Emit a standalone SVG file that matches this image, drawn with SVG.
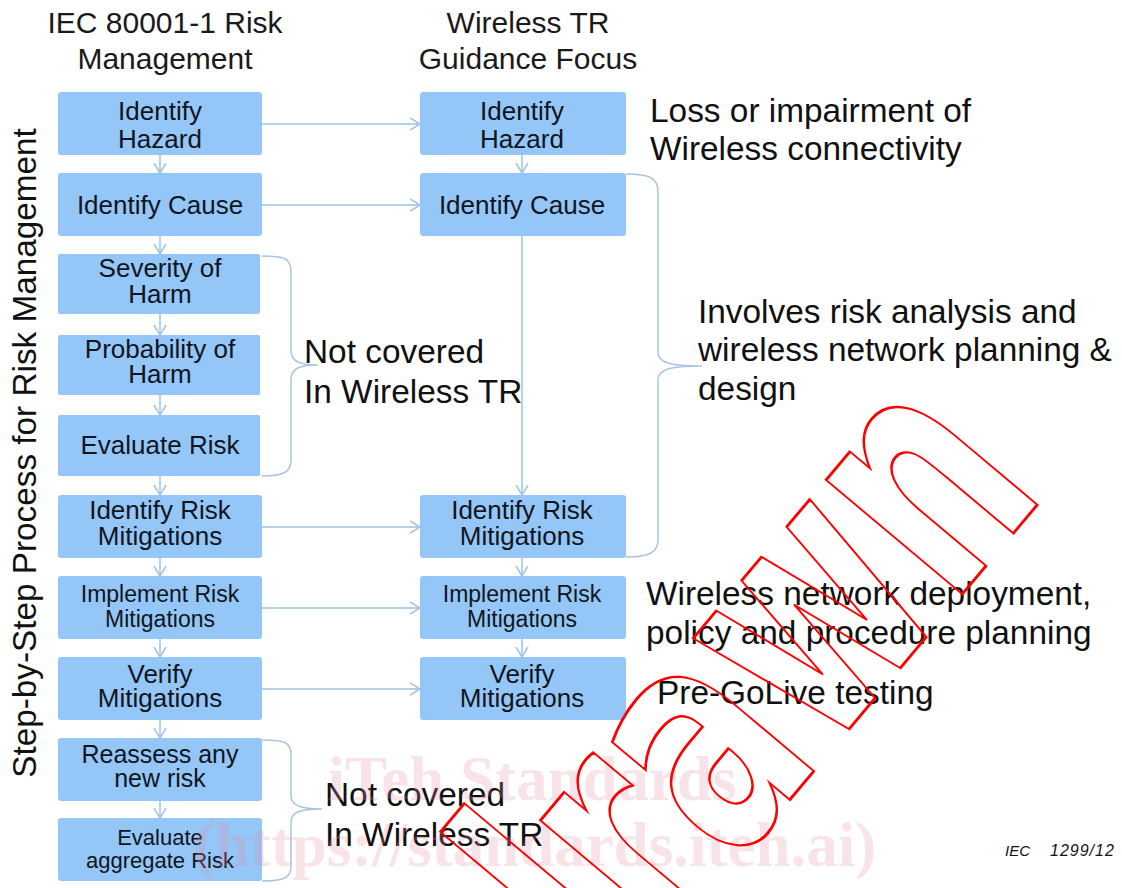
<svg xmlns="http://www.w3.org/2000/svg" width="1122" height="888" viewBox="0 0 1122 888">
<defs>
<marker id="arr" markerUnits="userSpaceOnUse" markerWidth="12" markerHeight="14" refX="10" refY="7" orient="auto">
<path d="M0,1 L10,7 L0,13" fill="none" stroke="#9DC3E6" stroke-width="1.5"/>
</marker>
<style>
.box{fill:#94C6F7;}
.bt{font-family:"Liberation Sans",Arial,sans-serif;font-size:26px;fill:#101520;text-anchor:middle;}
.hd{font-family:"Liberation Sans",Arial,sans-serif;font-size:30px;fill:#1a1a1a;text-anchor:middle;}
.an{font-family:"Liberation Sans",Arial,sans-serif;font-size:33.4px;fill:#111;}
.cn{fill:none;stroke:#9DC3E6;stroke-width:1.5;}
.br{fill:none;stroke:#A9C4E2;stroke-width:1.5;}
.wm{font-family:"Liberation Serif","Times New Roman",serif;font-weight:bold;font-size:63px;fill:#E58FA7;fill-opacity:0.25;text-anchor:middle;}
.wd{font-family:"DejaVu Sans",sans-serif;font-weight:bold;font-size:250px;fill:none;stroke:#FF0000;stroke-width:2.2;text-anchor:end;}
</style>
</defs>
<rect width="1122" height="888" fill="#ffffff"/>

<g id="headers">
<text class="hd" x="165" y="33">IEC 80001-1 Risk</text>
<text class="hd" x="165" y="69">Management</text>
<text class="hd" x="528" y="33">Wireless TR</text>
<text class="hd" x="528" y="69">Guidance Focus</text>
</g>

<g id="side-label">
<text font-family="Liberation Sans, Arial, sans-serif" font-size="33.3" fill="#111" text-anchor="middle" transform="translate(36,453) rotate(-90)">Step-by-Step Process for Risk Management</text>
</g>

<g id="connectors">
<line class="cn" x1="160" y1="155" x2="160" y2="173" marker-end="url(#arr)"/>
<line class="cn" x1="160" y1="236" x2="160" y2="254" marker-end="url(#arr)"/>
<line class="cn" x1="160" y1="314" x2="160" y2="335" marker-end="url(#arr)"/>
<line class="cn" x1="160" y1="395" x2="160" y2="415" marker-end="url(#arr)"/>
<line class="cn" x1="160" y1="476" x2="160" y2="495" marker-end="url(#arr)"/>
<line class="cn" x1="160" y1="558" x2="160" y2="576" marker-end="url(#arr)"/>
<line class="cn" x1="160" y1="639" x2="160" y2="657" marker-end="url(#arr)"/>
<line class="cn" x1="160" y1="720" x2="160" y2="738" marker-end="url(#arr)"/>
<line class="cn" x1="160" y1="801" x2="160" y2="818" marker-end="url(#arr)"/>
<line class="cn" x1="522" y1="155" x2="522" y2="173" marker-end="url(#arr)"/>
<line class="cn" x1="522" y1="236" x2="522" y2="495" marker-end="url(#arr)"/>
<line class="cn" x1="522" y1="558" x2="522" y2="576" marker-end="url(#arr)"/>
<line class="cn" x1="522" y1="639" x2="522" y2="657" marker-end="url(#arr)"/>
<line class="cn" x1="262" y1="124" x2="420" y2="124" marker-end="url(#arr)"/>
<line class="cn" x1="262" y1="205" x2="420" y2="205" marker-end="url(#arr)"/>
<line class="cn" x1="262" y1="527" x2="420" y2="527" marker-end="url(#arr)"/>
<line class="cn" x1="262" y1="608" x2="420" y2="608" marker-end="url(#arr)"/>
<line class="cn" x1="262" y1="689" x2="420" y2="689" marker-end="url(#arr)"/>
<path class="br" d="M262,256 C284,256 291,258 291,272 L291,350 C291,362 300,365 318,365 C300,365 291,368 291,380 L291,460 C291,472 284,476 262,476"/>
<path class="br" d="M626,174 C650,174 658,178 658,192 L658,352 C658,362 668,366 702,366 C668,366 658,370 658,380 L658,540 C658,552 650,557 626,557"/>
<path class="br" d="M262,740 C284,740 291,742 291,754 L291,796 C291,805 300,809 322,809 C300,809 291,812 291,822 L291,866 C291,878 284,881 262,881"/>
</g>

<g id="L1"><rect class="box" x="58" y="92" width="204" height="63" rx="3"/><text class="bt" x="160" y="120">Identify</text><text class="bt" x="160" y="148">Hazard</text></g>
<g id="L2"><rect class="box" x="58" y="173" width="204" height="63" rx="3"/><text class="bt" x="160" y="214">Identify Cause</text></g>
<g id="L3"><rect class="box" x="58" y="254" width="202" height="60" rx="2"/><text class="bt" x="160" y="277">Severity of</text><text class="bt" x="160" y="303">Harm</text></g>
<g id="L4"><rect class="box" x="58" y="335" width="202" height="60" rx="2"/><text class="bt" x="160" y="358">Probability of</text><text class="bt" x="160" y="383">Harm</text></g>
<g id="L5"><rect class="box" x="58" y="415" width="202" height="61" rx="2"/><text class="bt" x="160" y="454">Evaluate Risk</text></g>
<g id="L6"><rect class="box" x="58" y="495" width="204" height="63" rx="3"/><text class="bt" x="160" y="519">Identify Risk</text><text class="bt" x="160" y="545">Mitigations</text></g>
<g id="L7"><rect class="box" x="58" y="576" width="204" height="63" rx="3"/><text class="bt" x="160" y="602" style="font-size:23px">Implement Risk</text><text class="bt" x="160" y="627" style="font-size:23px">Mitigations</text></g>
<g id="L8"><rect class="box" x="58" y="657" width="204" height="63" rx="3"/><text class="bt" x="160" y="683">Verify</text><text class="bt" x="160" y="707">Mitigations</text></g>
<g id="L9"><rect class="box" x="58" y="738" width="204" height="63" rx="3"/><text class="bt" x="160" y="763" style="font-size:25px">Reassess any</text><text class="bt" x="160" y="787" style="font-size:25px">new risk</text></g>
<g id="L10"><rect class="box" x="58" y="818" width="204" height="63" rx="3"/><text class="bt" x="160" y="845" style="font-size:22px">Evaluate</text><text class="bt" x="160" y="868" style="font-size:22px">aggregate Risk</text></g>

<g id="R1"><rect class="box" x="420" y="92" width="206" height="63" rx="3"/><text class="bt" x="522" y="120">Identify</text><text class="bt" x="522" y="148">Hazard</text></g>
<g id="R2"><rect class="box" x="420" y="173" width="206" height="63" rx="3"/><text class="bt" x="522" y="214">Identify Cause</text></g>
<g id="R6"><rect class="box" x="420" y="495" width="206" height="63" rx="3"/><text class="bt" x="522" y="519">Identify Risk</text><text class="bt" x="522" y="545">Mitigations</text></g>
<g id="R7"><rect class="box" x="420" y="576" width="206" height="63" rx="3"/><text class="bt" x="522" y="602" style="font-size:23px">Implement Risk</text><text class="bt" x="522" y="627" style="font-size:23px">Mitigations</text></g>
<g id="R8"><rect class="box" x="420" y="657" width="206" height="63" rx="3"/><text class="bt" x="522" y="683">Verify</text><text class="bt" x="522" y="707">Mitigations</text></g>

<g id="annotations">
<text class="an" x="650" y="122">Loss or impairment of</text>
<text class="an" x="650" y="160">Wireless connectivity</text>
<text class="an" x="304" y="363">Not covered</text>
<text class="an" x="304" y="403">In Wireless TR</text>
<text class="an" x="698" y="323">Involves risk analysis and</text>
<text class="an" x="698" y="361">wireless network planning &amp;</text>
<text class="an" x="698" y="400">design</text>
<text class="an" x="646" y="605">Wireless network deployment,</text>
<text class="an" x="646" y="644">policy and procedure planning</text>
<text class="an" x="657" y="704">Pre-GoLive testing</text>
<text class="an" x="325" y="806">Not covered</text>
<text class="an" x="325" y="846">In Wireless TR</text>
<text font-family="Liberation Sans, Arial, sans-serif" font-style="italic" font-size="15" fill="#111" x="1005" y="856">IEC</text>
<text font-family="Liberation Sans, Arial, sans-serif" font-style="italic" font-size="16" letter-spacing="1" fill="#111" x="1050" y="856">1299/12</text>
</g>

<g id="watermarks">
<text class="wm" x="532" y="800">iTeh Standards</text>
<text class="wm" x="535" y="866">(https://standards.iteh.ai)</text>
<text class="wd" transform="translate(1048,492) rotate(-50) scale(0.85,1.3)">Withdrawn</text>
</g>
</svg>
